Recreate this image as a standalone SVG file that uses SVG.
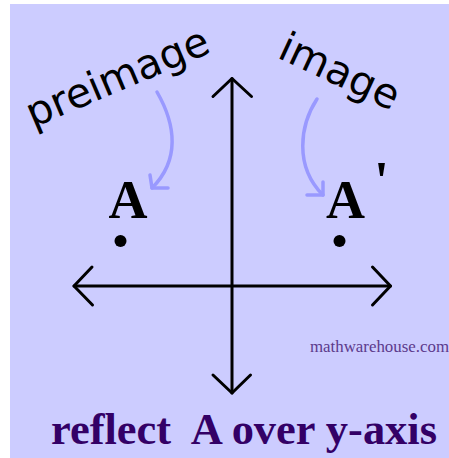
<svg xmlns="http://www.w3.org/2000/svg" width="449" height="458" viewBox="0 0 449 458">
<style>
.axis{fill:none;stroke:#000;stroke-width:3;stroke-linecap:round;stroke-linejoin:round}
.curve{fill:none;stroke:#9999ff;stroke-width:3.5;stroke-linecap:round;stroke-linejoin:round}
.pt{fill:#000}
.label{font-family:"DejaVu Sans",sans-serif;font-size:41px;fill:#000}
.letter{font-family:"Liberation Serif","Times New Roman",serif;font-weight:bold;font-size:54px;fill:#000}
.wm{font-family:"Liberation Serif","Times New Roman",serif;font-size:16px;fill:#5c3a8c}
.title{font-family:"Liberation Serif","Times New Roman",serif;font-weight:bold;font-size:45px;fill:#330066;white-space:pre}
</style>
<rect x="10" y="4" width="439" height="454" fill="#ccccff"/>
<g id="axes">
<line class="axis" x1="74" y1="286" x2="390.5" y2="286"/>
<line class="axis" x1="232" y1="78.5" x2="232" y2="393"/>
<polyline class="axis" points="92,267 74,286 92.5,305"/>
<polyline class="axis" points="372.5,267 390.5,286 372.5,305"/>
<polyline class="axis" points="213,96.5 232,78.5 251.5,96.5"/>
<polyline class="axis" points="213,375 232,393 250.5,375"/>
</g>
<g id="point-A">
<circle class="pt" cx="120.5" cy="241" r="6"/>
<text class="letter" x="128" y="217.5" text-anchor="middle">A</text>
</g>
<g id="point-A-prime">
<circle class="pt" cx="339.5" cy="241" r="6"/>
<text class="letter" x="345.5" y="218" text-anchor="middle">A</text>
<text class="letter" x="374" y="199">'</text>
</g>
<g id="label-preimage">
<text class="label" transform="translate(33,128) rotate(-23)">preimage</text>
</g>
<g id="label-image">
<text class="label" transform="translate(276,57) rotate(25)">image</text>
</g>
<g id="connectors">
<path class="curve" d="M157,92 C176,125 180,160 152,188"/>
<polyline class="curve" points="150,175 152,188 168,188"/>
<path class="curve" d="M317,99 C300,125 294,166 323,195"/>
<polyline class="curve" points="323,182 323,195 307,195"/>
</g>
<text class="wm" x="310" y="352" textLength="139" lengthAdjust="spacingAndGlyphs">mathwarehouse.com</text>
<text class="title" x="51" y="444" textLength="386" lengthAdjust="spacingAndGlyphs" xml:space="preserve">reflect  A over y-axis</text>
</svg>
